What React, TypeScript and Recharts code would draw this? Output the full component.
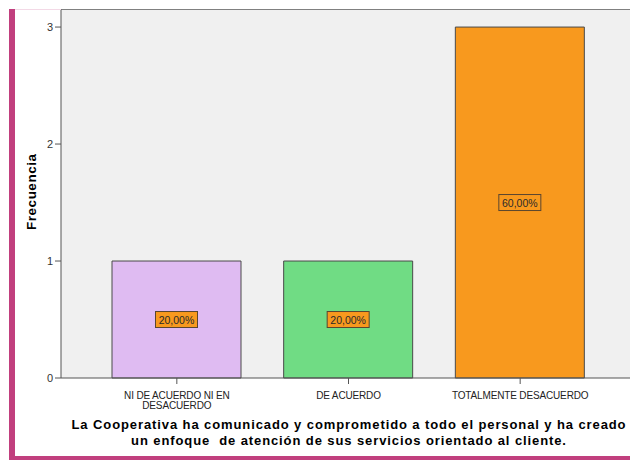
import React from 'react';
import { BarChart, Bar, XAxis, YAxis, CartesianGrid, LabelList, Cell, ReferenceLine } from 'recharts';

// Response categories and how many answers fell in each
const categories = ['NI DE ACUERDO NI EN\nDESACUERDO', 'DE ACUERDO', 'TOTALMENTE DESACUERDO'];
const counts = [1, 1, 3];
const barColors = ['#dfbbf2', '#70dc84', '#f8991e'];
const yTicks = [0, 1, 2, 3];
const yMax = 3.15;

const total = counts.reduce((a, b) => a + b, 0);
const data = categories.map((name, i) => ({ name, value: counts[i] }));

const FONT = '"Liberation Sans", Arial, sans-serif';

const CategoryTick = (props: any) => {
  const { x, y, payload } = props;
  const lines = String(payload.value).split('\n');
  return (
    <g>
      {lines.map((line, i) => (
        <text
          key={i}
          x={x}
          y={y + 13 + i * 10}
          textAnchor="middle"
          fontSize={10}
          fontFamily={FONT}
          fill="#222"
          letterSpacing={-0.15}
        >
          {line}
        </text>
      ))}
    </g>
  );
};

// percentage tag sitting in the middle of each bar
const PercentTag = (props: any) => {
  const { x, y, width, height, value } = props;
  const cx = x + width / 2;
  const cy = y + height / 2;
  const text = ((value / total) * 100).toFixed(2).replace('.', ',') + '%';
  return (
    <g>
      <rect x={cx - 21} y={cy - 8} width={42} height={16} fill="#f8991e" stroke="#5a4630" strokeWidth={1} />
      <text x={cx} y={cy + 4} textAnchor="middle" fontSize={10.5} fontFamily={FONT} fill="#2a2a2a">
        {text}
      </text>
    </g>
  );
};

const AxisTitle = (props: any) => {
  const { viewBox } = props;
  const cx = viewBox.x + 31;
  const cy = viewBox.y + viewBox.height / 2 - 2;
  return (
    <text
      x={cx}
      y={cy}
      transform={`rotate(-90 ${cx} ${cy})`}
      textAnchor="middle"
      dominantBaseline="central"
      fontSize={13.5}
      fontWeight="bold"
      fontFamily={FONT}
      letterSpacing={0.5}
      fill="#000"
    >
      Frecuencia
    </text>
  );
};

export default function App() {
  return (
    <div style={{ position: 'absolute', left: 0, top: 0, width: 630, height: 460, background: '#fff', overflow: 'hidden' }}>
      <BarChart
        width={630}
        height={460}
        data={data}
        margin={{ top: 9.5, right: 0, bottom: 0, left: 0 }}
        barSize={129}
      >
        <CartesianGrid fill="#f0f0f0" horizontal={false} vertical={false} />
        <ReferenceLine y={yMax} stroke="#808080" strokeWidth={1.2} />
        <XAxis
          dataKey="name"
          height={82}
          padding={{ left: 30, right: 24 }}
          stroke="#555"
          tickSize={6}
          tick={<CategoryTick />}
          interval={0}
        />
        <YAxis
          width={61}
          domain={[0, yMax]}
          ticks={yTicks}
          stroke="#555"
          tickSize={6}
          tickMargin={2}
          tick={{ fontSize: 11, fontFamily: FONT, fill: '#333' }}
          label={<AxisTitle />}
        />
        <Bar dataKey="value" stroke="#4a4a4a" strokeWidth={1} isAnimationActive={false}>
          {data.map((d, i) => (
            <Cell key={d.name} fill={barColors[i]} />
          ))}
          <LabelList dataKey="value" content={<PercentTag />} />
        </Bar>
      </BarChart>
      <div
        style={{
          position: 'absolute',
          left: 68,
          top: 417,
          width: 562,
          textAlign: 'center',
          fontFamily: FONT,
          fontWeight: 'bold',
          fontSize: 13,
          lineHeight: '16px',
          letterSpacing: 0.9,
          color: '#000',
          whiteSpace: 'pre',
        }}
      >
        {'La Cooperativa ha comunicado y comprometido a todo el personal y ha creado\nun enfoque  de atención de sus servicios orientado al cliente.'}
      </div>
      {/* page frame */}
      <div style={{ position: 'absolute', left: 9, top: 9, width: 6, height: 451, background: '#c13f7e' }} />
      <div style={{ position: 'absolute', left: 9, top: 456, width: 621, height: 4, background: '#c13f7e' }} />
      <div style={{ position: 'absolute', left: 15, top: 9, width: 46, height: 1, background: '#f3d9e6' }} />
    </div>
  );
}
